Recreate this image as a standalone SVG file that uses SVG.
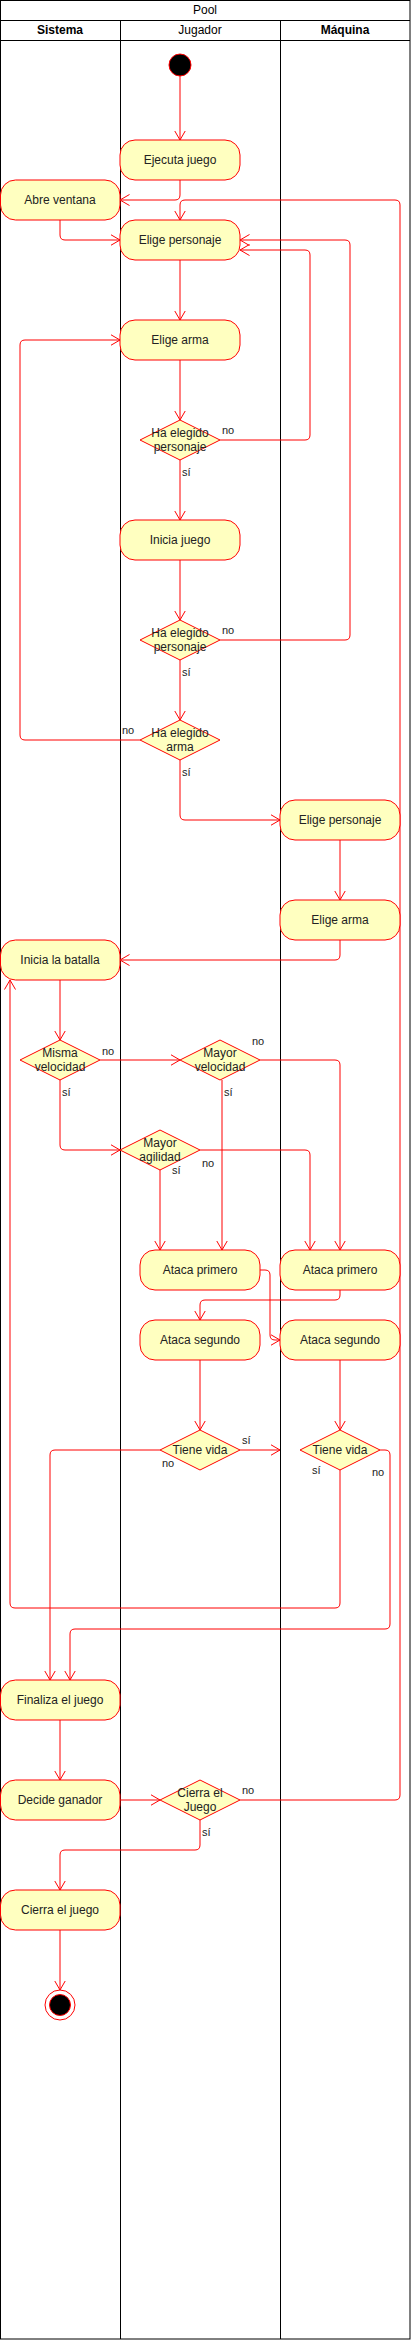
<svg xmlns="http://www.w3.org/2000/svg" width="411" height="2340" viewBox="0 0 411 2340">
<style>
.lane{fill:none;stroke:#000;stroke-width:1}
.act{fill:#FFFFC0;stroke:#FF0000;stroke-width:1}
.dec{fill:#FFFFC0;stroke:#FF0000;stroke-width:1}
.e{fill:none;stroke:#FF0000;stroke-width:1;marker-end:url(#arr)}
.t{font-family:"Liberation Sans",Arial,sans-serif;font-size:12px;fill:#222;text-anchor:middle}
.h{font-family:"Liberation Sans",Arial,sans-serif;font-size:12px;fill:#000;text-anchor:middle}
.b{font-weight:bold}
.l{font-family:"Liberation Sans",Arial,sans-serif;font-size:11px;fill:#222}
</style>
<defs>
<marker id="arr" viewBox="0 0 10 12" refX="9.5" refY="6" markerWidth="10" markerHeight="12" markerUnits="userSpaceOnUse" orient="auto">
<path d="M0,0.5 L9.5,6 L0,11.5" fill="none" stroke="#FF0000" stroke-width="1"/>
</marker>
</defs>
<rect x="0" y="0" width="411" height="2340" fill="#fff"/>
<g id="pool">
<rect class="lane" x="0.5" y="0.5" width="409.5" height="2338.5"/>
<line class="lane" x1="0.5" y1="20.5" x2="410" y2="20.5"/>
<line class="lane" x1="0.5" y1="40.5" x2="410" y2="40.5"/>
<line class="lane" x1="120.5" y1="20.5" x2="120.5" y2="2339"/>
<line class="lane" x1="280.5" y1="20.5" x2="280.5" y2="2339"/>
<text class="h" x="205" y="14">Pool</text>
<text class="h b" x="60" y="34">Sistema</text>
<text class="h" x="200" y="34">Jugador</text>
<text class="h b" x="345" y="34">Máquina</text>
</g>
<g id="connectors">
<path class="e" d="M180,76 L180,140"/>
<path class="e" d="M180,180 L180,195 Q180,200 175,200 L120,200"/>
<path class="e" d="M60,220 L60,235 Q60,240 65,240 L120,240"/>
<path class="e" d="M180,260 L180,320"/>
<path class="e" d="M180,360 L180,420"/>
<path class="e" d="M220,440 L305,440 Q310,440 310,435 L310,255 Q310,250 305,250 L240,250"/>
<path class="e" d="M180,460 L180,520"/>
<path class="e" d="M180,560 L180,620"/>
<path class="e" d="M220,640 L345,640 Q350,640 350,635 L350,245 Q350,240 345,240 L240,240"/>
<path class="e" d="M180,660 L180,720"/>
<path class="e" d="M140,740 L25,740 Q20,740 20,735 L20,345 Q20,340 25,340 L120,340"/>
<path class="e" d="M180,760 L180,815 Q180,820 185,820 L280,820"/>
<path class="e" d="M340,840 L340,900"/>
<path class="e" d="M340,940 L340,955 Q340,960 335,960 L120,960"/>
<path class="e" d="M60,980 L60,1040"/>
<path class="e" d="M100,1060 L180,1060"/>
<path class="e" d="M60,1080 L60,1145 Q60,1150 65,1150 L120,1150"/>
<path class="e" d="M260,1060 L335,1060 Q340,1060 340,1065 L340,1250"/>
<path class="e" d="M222,1080 L222,1250"/>
<path class="e" d="M200,1150 L305,1150 Q310,1150 310,1155 L310,1250"/>
<path class="e" d="M160,1170 L160,1250"/>
<path class="e" d="M260,1270 L265,1270 Q270,1270 270,1275 L270,1335 Q270,1340 275,1340 L280,1340"/>
<path class="e" d="M340,1290 L340,1295 Q340,1300 335,1300 L205,1300 Q200,1300 200,1305 L200,1320"/>
<path class="e" d="M200,1360 L200,1430"/>
<path class="e" d="M340,1360 L340,1430"/>
<path class="e" d="M240,1450 L280,1450"/>
<path class="e" d="M160,1450 L55,1450 Q50,1450 50,1455 L50,1680"/>
<path class="e" d="M340,1470 L340,1603 Q340,1608 335,1608 L15,1608 Q10,1608 10,1603 L10,980"/>
<path class="e" d="M380,1450 L385,1450 Q390,1450 390,1455 L390,1624 Q390,1629 385,1629 L75,1629 Q70,1629 70,1634 L70,1680"/>
<path class="e" d="M60,1720 L60,1780"/>
<path class="e" d="M120,1800 L160,1800"/>
<path class="e" d="M240,1800 L395,1800 Q400,1800 400,1795 L400,205 Q400,200 395,200 L185,200 Q180,200 180,205 L180,220"/>
<path class="e" d="M200,1820 L200,1845 Q200,1850 195,1850 L65,1850 Q60,1850 60,1855 L60,1890"/>
<path class="e" d="M60,1930 L60,1990"/>
<text class="l" x="222" y="434">no</text>
<text class="l" x="182" y="476">sí</text>
<text class="l" x="222" y="634">no</text>
<text class="l" x="182" y="676">sí</text>
<text class="l" x="122" y="734">no</text>
<text class="l" x="182" y="776">sí</text>
<text class="l" x="102" y="1055">no</text>
<text class="l" x="62" y="1096">sí</text>
<text class="l" x="252" y="1045">no</text>
<text class="l" x="224" y="1096">sí</text>
<text class="l" x="172" y="1174">sí</text>
<text class="l" x="202" y="1167">no</text>
<text class="l" x="242" y="1444">sí</text>
<text class="l" x="162" y="1467">no</text>
<text class="l" x="312" y="1474">sí</text>
<text class="l" x="372" y="1476">no</text>
<text class="l" x="242" y="1794">no</text>
<text class="l" x="202" y="1836">sí</text>
</g>
<g id="start"><circle cx="180" cy="65" r="11" fill="#000" stroke="#FF0000"/></g>
<g id="ejecuta"><rect class="act" x="120" y="140" width="120" height="40" rx="15"/><text class="t" x="180" y="164">Ejecuta juego</text></g>
<g id="abre"><rect class="act" x="0.5" y="180" width="119.5" height="40" rx="15"/><text class="t" x="60" y="204">Abre ventana</text></g>
<g id="eligePersJ"><rect class="act" x="120" y="220" width="120" height="40" rx="15"/><text class="t" x="180" y="244">Elige personaje</text></g>
<g id="eligeArmaJ"><rect class="act" x="120" y="320" width="120" height="40" rx="15"/><text class="t" x="180" y="344">Elige arma</text></g>
<g id="d1"><path class="dec" d="M180,420 L220,440 L180,460 L140,440 Z"/><text class="t" x="180" y="437">Ha elegido</text><text class="t" x="180" y="451">personaje</text></g>
<g id="inicia"><rect class="act" x="120" y="520" width="120" height="40" rx="15"/><text class="t" x="180" y="544">Inicia juego</text></g>
<g id="d2"><path class="dec" d="M180,620 L220,640 L180,660 L140,640 Z"/><text class="t" x="180" y="637">Ha elegido</text><text class="t" x="180" y="651">personaje</text></g>
<g id="d3"><path class="dec" d="M180,720 L220,740 L180,760 L140,740 Z"/><text class="t" x="180" y="737">Ha elegido</text><text class="t" x="180" y="751">arma</text></g>
<g id="eligePersM"><rect class="act" x="280" y="800" width="120" height="40" rx="15"/><text class="t" x="340" y="824">Elige personaje</text></g>
<g id="eligeArmaM"><rect class="act" x="280" y="900" width="120" height="40" rx="15"/><text class="t" x="340" y="924">Elige arma</text></g>
<g id="batalla"><rect class="act" x="0.5" y="940" width="119.5" height="40" rx="15"/><text class="t" x="60" y="964">Inicia la batalla</text></g>
<g id="misma"><path class="dec" d="M60,1040 L100,1060 L60,1080 L20,1060 Z"/><text class="t" x="60" y="1057">Misma</text><text class="t" x="60" y="1071">velocidad</text></g>
<g id="mayorVel"><path class="dec" d="M220,1040 L260,1060 L220,1080 L180,1060 Z"/><text class="t" x="220" y="1057">Mayor</text><text class="t" x="220" y="1071">velocidad</text></g>
<g id="mayorAg"><path class="dec" d="M160,1130 L200,1150 L160,1170 L120,1150 Z"/><text class="t" x="160" y="1147">Mayor</text><text class="t" x="160" y="1161">agilidad</text></g>
<g id="atacaPrimJ"><rect class="act" x="140" y="1250" width="120" height="40" rx="15"/><text class="t" x="200" y="1274">Ataca primero</text></g>
<g id="atacaPrimM"><rect class="act" x="280" y="1250" width="120" height="40" rx="15"/><text class="t" x="340" y="1274">Ataca primero</text></g>
<g id="atacaSegJ"><rect class="act" x="140" y="1320" width="120" height="40" rx="15"/><text class="t" x="200" y="1344">Ataca segundo</text></g>
<g id="atacaSegM"><rect class="act" x="280" y="1320" width="120" height="40" rx="15"/><text class="t" x="340" y="1344">Ataca segundo</text></g>
<g id="vidaJ"><path class="dec" d="M200,1430 L240,1450 L200,1470 L160,1450 Z"/><text class="t" x="200" y="1454">Tiene vida</text></g>
<g id="vidaM"><path class="dec" d="M340,1430 L380,1450 L340,1470 L300,1450 Z"/><text class="t" x="340" y="1454">Tiene vida</text></g>
<g id="finaliza"><rect class="act" x="0.5" y="1680" width="119.5" height="40" rx="15"/><text class="t" x="60" y="1704">Finaliza el juego</text></g>
<g id="decide"><rect class="act" x="0.5" y="1780" width="119.5" height="40" rx="15"/><text class="t" x="60" y="1804">Decide ganador</text></g>
<g id="cierraD"><path class="dec" d="M200,1780 L240,1800 L200,1820 L160,1800 Z"/><text class="t" x="200" y="1797">Cierra el</text><text class="t" x="200" y="1811">Juego</text></g>
<g id="cierra"><rect class="act" x="0.5" y="1890" width="119.5" height="40" rx="15"/><text class="t" x="60" y="1914">Cierra el juego</text></g>
<g id="end"><circle cx="60" cy="2005" r="15" fill="#fff" stroke="#FF0000"/><circle cx="60" cy="2005" r="10.5" fill="#000" stroke="#FF0000"/></g>
</svg>
